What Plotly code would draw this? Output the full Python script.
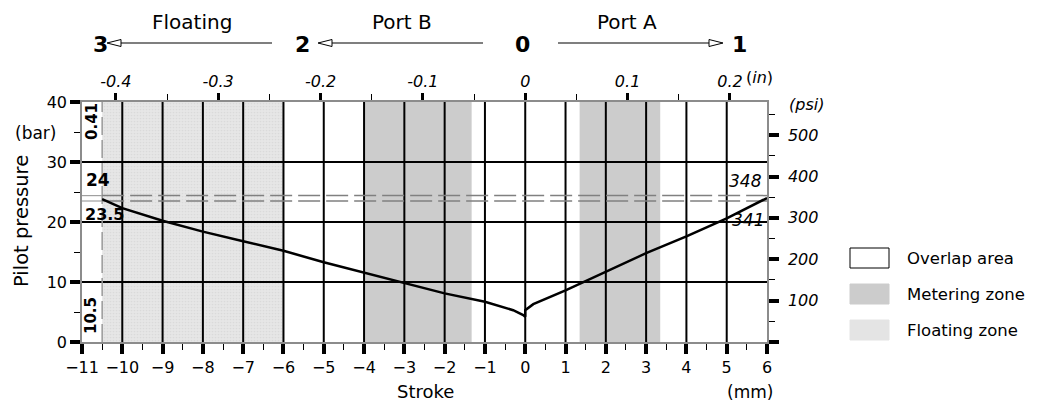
import plotly.graph_objects as go

# pilot pressure curve (stroke in mm, pressure in bar)
stroke_left = [-10.5, -10, -9, -8, -7, -6, -5, -4, -3, -2, -1, -0.3, -0.05, 0]
pressure_left = [23.8, 22.3, 20.2, 18.4, 16.8, 15.2, 13.3, 11.6, 9.8, 8.1, 6.7, 5.3, 4.5, 4.2]
stroke_right = [0, 0.2, 1, 2, 3, 4, 5, 6]
pressure_right = [5.3, 6.3, 8.6, 11.7, 14.8, 17.6, 20.6, 24.0]

# zones (mm)
floating_zone = [-10.5, -6.0]
metering_zones = [[-4.0, -1.33], [1.35, 3.35]]
floating_limit = -10.5

# reference pressure lines (bar)
ref_levels = [24.4, 23.5]

# axes
x_range = [-11, 6]
y_range = [0, 40]
grid_x = list(range(-10, 6))
grid_y = [10, 20, 30]
inch_ticks = [-0.4, -0.3, -0.2, -0.1, 0, 0.1, 0.2]
inch_labels = ["-0.4", "-0.3", "-0.2", "-0.1", "0", "0.1", "0.2"]
psi_ticks = [0, 100, 200, 300, 400, 500]
psi_labels = ["", "100", "200", "300", "400", "500"]

MM_PER_IN = 25.4
PSI_PER_BAR = 14.5038

FONT = "DejaVu Sans"

# plot box in pixels, used to place the outside decorations
L, R, T, B = 82, 767, 102, 342


def px(x):
    return (x - L) / (R - L)


def py(y):
    return (B - y) / (B - T)


fig = go.Figure()


def rect_trace(x0, x1, **kw):
    return go.Scatter(
        x=[x0, x1, x1, x0, x0],
        y=[y_range[0], y_range[0], y_range[1], y_range[1], y_range[0]],
        mode="lines",
        fill="toself",
        line=dict(width=0),
        hoverinfo="skip",
        showlegend=False,
        **kw,
    )


# floating zone with a fine dotted texture
fig.add_trace(
    rect_trace(
        floating_zone[0],
        floating_zone[1],
        fillcolor="#e4e4e4",
        fillpattern=dict(shape=".", bgcolor="#e6e6e6", fgcolor="#cdcdcd", size=3, solidity=0.25),
    )
)
for z0, z1 in metering_zones:
    fig.add_trace(rect_trace(z0, z1, fillcolor="#cccccc"))

# grid lines
gx, gy = [], []
for v in grid_x:
    gx += [v, v, None]
    gy += [y_range[0], y_range[1], None]
for v in grid_y:
    gx += [x_range[0], x_range[1], None]
    gy += [v, v, None]
fig.add_trace(
    go.Scatter(x=gx, y=gy, mode="lines", line=dict(color="black", width=2),
               hoverinfo="skip", showlegend=False)
)

# dashed limit of the floating zone
fig.add_trace(
    go.Scatter(x=[floating_limit, floating_limit], y=y_range, mode="lines",
               line=dict(color="#9a9a9a", width=1.5, dash="18px,5px"),
               hoverinfo="skip", showlegend=False)
)

# reference pressure lines: solid stub on the left, dashed across
for lvl in ref_levels:
    fig.add_trace(
        go.Scatter(x=[x_range[0], floating_limit], y=[lvl, lvl], mode="lines",
                   line=dict(color="#a0a0a0", width=1.2),
                   hoverinfo="skip", showlegend=False)
    )
    fig.add_trace(
        go.Scatter(x=[floating_limit, x_range[1]], y=[lvl, lvl], mode="lines",
                   line=dict(color="#808080", width=1.5, dash="22px,6px"),
                   hoverinfo="skip", showlegend=False)
    )

# pressure curve
fig.add_trace(
    go.Scatter(x=stroke_left + stroke_right, y=pressure_left + pressure_right,
               mode="lines", line=dict(color="black", width=2.5),
               showlegend=False)
)

# same curve in inch / psi so the secondary axes get drawn (kept invisible)
fig.add_trace(
    go.Scatter(x=[v / MM_PER_IN for v in stroke_left + stroke_right],
               y=[v * PSI_PER_BAR for v in pressure_left + pressure_right],
               xaxis="x2", yaxis="y2", mode="lines", opacity=0,
               hoverinfo="skip", showlegend=False)
)

tick_font = dict(family=FONT, size=16, color="black")
italic_font = dict(family=FONT, size=16, color="black", style="italic")

fig.update_layout(
    width=1045,
    height=405,
    margin=dict(l=L, r=1045 - R, t=T, b=405 - B),
    paper_bgcolor="white",
    plot_bgcolor="white",
    font=dict(family=FONT, color="black"),
    xaxis=dict(
        range=x_range, dtick=1, tick0=0,
        ticks="outside", ticklen=10, tickwidth=4, tickcolor="black",
        minor=dict(dtick=0.5, ticks="outside", ticklen=6, tickwidth=1, tickcolor="black"),
        showgrid=False, zeroline=False,
        showline=True, linecolor="#8c8c8c", linewidth=1.5,
        tickfont=tick_font,
    ),
    xaxis2=dict(
        overlaying="x", side="top", anchor="y",
        range=[x_range[0] / MM_PER_IN, x_range[1] / MM_PER_IN],
        tickvals=inch_ticks, ticktext=inch_labels,
        ticks="outside", ticklen=7, tickwidth=3, tickcolor="black",
        minor=dict(dtick=0.05, tick0=0, ticks="outside", ticklen=6, tickwidth=1, tickcolor="black"),
        showgrid=False, zeroline=False,
        showline=True, linecolor="#8c8c8c", linewidth=1.5,
        tickfont=italic_font,
    ),
    yaxis=dict(
        range=y_range, dtick=10, tick0=0,
        ticks="outside", ticklen=10, tickwidth=4, tickcolor="black",
        minor=dict(dtick=5, ticks="outside", ticklen=6, tickwidth=1, tickcolor="black"),
        showgrid=False, zeroline=False,
        showline=True, linecolor="#8c8c8c", linewidth=1.5,
        tickfont=tick_font,
    ),
    yaxis2=dict(
        overlaying="y", side="right", anchor="x",
        range=[y_range[0] * PSI_PER_BAR, y_range[1] * PSI_PER_BAR],
        tickvals=psi_ticks, ticktext=psi_labels,
        ticks="outside", ticklen=10, tickwidth=4, tickcolor="black",
        minor=dict(dtick=50, tick0=0, ticks="outside", ticklen=6, tickwidth=1, tickcolor="black"),
        showgrid=False, zeroline=False,
        showline=True, linecolor="#8c8c8c", linewidth=1.5,
        tickfont=italic_font, ticklabelstandoff=6,
    ),
)

# text outside and inside the plot
notes = [
    # text, x px, y px, size, anchor, angle
    ("Floating", 192, 22, 20, "center", 0),
    ("Port B", 402, 22, 20, "center", 0),
    ("Port A", 627, 22, 20, "center", 0),
    ("<b>3</b>", 100, 45, 22, "center", 0),
    ("<b>2</b>", 302, 45, 22, "center", 0),
    ("<b>0</b>", 522, 45, 22, "center", 0),
    ("<b>1</b>", 739, 45, 22, "center", 0),
    ("(<i>in</i>)", 744, 78, 16, "left", 0),
    ("<i>(psi)</i>", 787, 105, 16, "left", 0),
    ("(bar)", 58, 133, 17, "right", 0),
    ("Pilot pressure", 21, 221, 19.5, "center", -90),
    ("Stroke", 425, 391, 18, "center", 0),
    ("(mm)", 750, 392, 17, "center", 0),
    ("<b>24</b>", 98, 180, 17, "center", 0),
    ("<b>23.5</b>", 104, 214, 16, "center", 0),
    ("<i>348</i>", 745, 181, 17, "center", 0),
    ("<i>341</i>", 748, 220, 17, "center", 0),
    ("<b>0.41</b>", 92, 122, 15, "center", -90),
    ("<b>10.5</b>", 91, 316, 15, "center", -90),
]
for text, x, y, size, anchor, angle in notes:
    fig.add_annotation(
        text=text, x=px(x), y=py(y), xref="paper", yref="paper",
        xanchor=anchor, yanchor="middle", showarrow=False, textangle=angle,
        font=dict(family=FONT, size=size, color="black"),
    )

# direction arrows with open heads
arrow_y = 43
arrows = [(272, 107, -1), (483, 318, -1), (558, 723, 1)]
for start, tip, d in arrows:
    base = tip - d * 14
    fig.add_shape(type="line", xref="paper", yref="paper",
                  x0=px(start), x1=px(base), y0=py(arrow_y), y1=py(arrow_y),
                  line=dict(color="black", width=1.2))
    path = "M {} {} L {} {} L {} {} Z".format(
        px(tip), py(arrow_y), px(base), py(arrow_y - 3.5), px(base), py(arrow_y + 3.5))
    fig.add_shape(type="path", xref="paper", yref="paper", path=path,
                  fillcolor="white", line=dict(color="black", width=1))

# legend boxes
legend_items = [
    ("Overlap area", "white", "black"),
    ("Metering zone", "#cccccc", None),
    ("Floating zone", "#e4e4e4", None),
]
for i, (label, fill, edge) in enumerate(legend_items):
    cy = 258 + i * 36
    fig.add_shape(type="rect", xref="paper", yref="paper",
                  x0=px(850), x1=px(889), y0=py(cy + 10), y1=py(cy - 10),
                  fillcolor=fill,
                  line=dict(color=edge if edge else fill, width=1))
    fig.add_annotation(text=label, x=px(905), y=py(cy), xref="paper", yref="paper",
                       xanchor="left", yanchor="middle", showarrow=False,
                       font=dict(family=FONT, size=16.5, color="black"))

# drop the default page margin so the figure sits at the window's corner
fig.write_html(
    "out.html",
    config={"displayModeBar": False},
    post_script="document.body.style.margin = '0';",
)
